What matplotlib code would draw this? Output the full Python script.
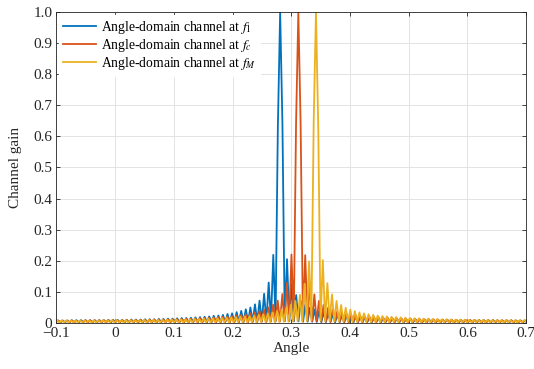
import numpy as np
import matplotlib
matplotlib.use("Agg")
import matplotlib.pyplot as plt

plt.rcParams['font.family'] = ['Liberation Serif', 'DejaVu Serif']
plt.rcParams['mathtext.fontset'] = 'stix'

# ---- data ----
# main-lobe centres (angle) and half lobe spacing of the sampled array response
blue_center = 0.281
red_center = 0.312
yellow_center = 0.342
lobe_half = 0.0039

main_peak = [1.0, 1.0, 1.0]
# first samples either side of the main lobe (left, right)
blue_shoulders = [0.63, 0.64]
red_shoulders = [0.64, 0.64]
yellow_shoulders = [0.64, 0.63]

# side-lobe tips going outwards from the main lobe
blue_left_peaks = [0.219, 0.130, 0.094, 0.072, 0.060, 0.050, 0.044, 0.039, 0.035, 0.031,
                   0.029, 0.026, 0.024, 0.023, 0.021, 0.020, 0.019, 0.018, 0.017, 0.016,
                   0.016, 0.015, 0.014, 0.014, 0.013, 0.013, 0.012, 0.012, 0.012, 0.011,
                   0.011, 0.011, 0.010, 0.010, 0.010, 0.010, 0.010, 0.009, 0.009, 0.009,
                   0.009, 0.009, 0.009, 0.009, 0.009, 0.008, 0.008, 0.008, 0.008, 0.008]
blue_right_peaks = [0.205, 0.126, 0.090, 0.071, 0.058, 0.049, 0.043, 0.038, 0.034, 0.031,
                    0.028, 0.026, 0.024, 0.022, 0.021, 0.020, 0.019, 0.018, 0.017, 0.016,
                    0.015, 0.015, 0.014, 0.014, 0.013, 0.013, 0.012, 0.012, 0.012, 0.011,
                    0.011, 0.011, 0.010, 0.010, 0.010, 0.010, 0.010, 0.009, 0.009, 0.009,
                    0.009, 0.009, 0.009, 0.009, 0.009, 0.009, 0.008, 0.008, 0.008, 0.008,
                    0.008, 0.008, 0.008, 0.008, 0.008]
red_left_peaks = [0.220, 0.129, 0.093, 0.072, 0.059, 0.050, 0.043, 0.038, 0.034, 0.031,
                  0.028, 0.026, 0.024, 0.022, 0.021, 0.020, 0.019, 0.018, 0.017, 0.016,
                  0.016, 0.015, 0.014, 0.014, 0.013, 0.013, 0.012, 0.012, 0.012, 0.011,
                  0.011, 0.011, 0.010, 0.010, 0.010, 0.010, 0.010, 0.009, 0.009, 0.009,
                  0.009, 0.009, 0.009, 0.009, 0.009, 0.009, 0.008, 0.008, 0.008, 0.008,
                  0.008, 0.008, 0.008, 0.008]
red_right_peaks = [0.218, 0.128, 0.092, 0.071, 0.058, 0.049, 0.043, 0.038, 0.034, 0.031,
                   0.028, 0.026, 0.024, 0.022, 0.021, 0.020, 0.019, 0.018, 0.017, 0.016,
                   0.015, 0.015, 0.014, 0.014, 0.013, 0.013, 0.012, 0.012, 0.012, 0.011,
                   0.011, 0.011, 0.010, 0.010, 0.010, 0.010, 0.010, 0.009, 0.009, 0.009,
                   0.009, 0.009, 0.009, 0.009, 0.009, 0.009, 0.008, 0.008, 0.008, 0.008,
                   0.008]
yellow_left_peaks = [0.198, 0.126, 0.091, 0.071, 0.058, 0.049, 0.043, 0.038, 0.034, 0.031,
                     0.028, 0.026, 0.024, 0.022, 0.021, 0.020, 0.019, 0.018, 0.017, 0.016,
                     0.015, 0.015, 0.014, 0.014, 0.013, 0.013, 0.012, 0.012, 0.012, 0.011,
                     0.011, 0.011, 0.010, 0.010, 0.010, 0.010, 0.010, 0.009, 0.009, 0.009,
                     0.009, 0.009, 0.009, 0.009, 0.009, 0.009, 0.008, 0.008, 0.008, 0.008,
                     0.008, 0.008, 0.008, 0.008, 0.008, 0.008, 0.008, 0.008]
yellow_right_peaks = [0.202, 0.128, 0.092, 0.071, 0.058, 0.049, 0.043, 0.038, 0.034, 0.031,
                      0.028, 0.026, 0.024, 0.022, 0.021, 0.020, 0.019, 0.018, 0.017, 0.016,
                      0.015, 0.015, 0.014, 0.014, 0.013, 0.013, 0.012, 0.012, 0.012, 0.011,
                      0.011, 0.011, 0.010, 0.010, 0.010, 0.010, 0.010, 0.009, 0.009, 0.009,
                      0.009, 0.009, 0.009, 0.009, 0.009, 0.009, 0.009]

# minima between the lobes
blue_troughs = [0.006, 0.007, 0.005, 0.005, 0.004, 0.004, 0.004, 0.003, 0.003, 0.003,
                0.003, 0.002, 0.003, 0.002, 0.003, 0.002, 0.002, 0.003, 0.002, 0.002,
                0.003, 0.002, 0.002, 0.002, 0.003, 0.002, 0.002, 0.002, 0.002, 0.003,
                0.002, 0.002, 0.002, 0.002, 0.002, 0.003, 0.002, 0.002, 0.002, 0.002,
                0.002, 0.002, 0.003, 0.002, 0.002, 0.002, 0.002, 0.002, 0.002, 0.002,
                0.002, 0.002, 0.002, 0.002, 0.002, 0.002, 0.002, 0.002]
red_troughs = [0.007, 0.006, 0.006, 0.005, 0.004, 0.004, 0.003, 0.004, 0.003, 0.003,
               0.002, 0.003, 0.003, 0.002, 0.002, 0.003, 0.002, 0.002, 0.002, 0.003,
               0.002, 0.002, 0.003, 0.002, 0.002, 0.002, 0.002, 0.003, 0.002, 0.002,
               0.002, 0.002, 0.002, 0.002, 0.003, 0.002, 0.002, 0.002, 0.002, 0.002,
               0.002, 0.003, 0.002, 0.002, 0.002, 0.002, 0.002, 0.002, 0.002, 0.002,
               0.002, 0.002, 0.002, 0.002, 0.002, 0.002, 0.002, 0.002]
yellow_troughs = [0.008, 0.006, 0.005, 0.005, 0.005, 0.004, 0.004, 0.003, 0.003, 0.003,
                  0.003, 0.003, 0.002, 0.003, 0.002, 0.002, 0.003, 0.002, 0.002, 0.002,
                  0.003, 0.002, 0.002, 0.002, 0.002, 0.003, 0.002, 0.002, 0.002, 0.002,
                  0.002, 0.003, 0.002, 0.002, 0.002, 0.002, 0.002, 0.002, 0.003, 0.002,
                  0.002, 0.002, 0.002, 0.002, 0.002, 0.002, 0.002, 0.002, 0.002, 0.002,
                  0.002, 0.002, 0.002, 0.002, 0.002, 0.002, 0.002, 0.002, 0.002, 0.002]

labels = [r'Angle-domain channel at $f_1$',
          r'Angle-domain channel at $f_c$',
          r'Angle-domain channel at $f_M$']
colors = ['#0072BD', '#D95319', '#EDB120']

xticks = [-0.1, 0, 0.1, 0.2, 0.3, 0.4, 0.5, 0.6, 0.7]
xtick_labels = ['\u22120.1', '0', '0.1', '0.2', '0.3', '0.4', '0.5', '0.6', '0.7']
yticks = [0, 0.1, 0.2, 0.3, 0.4, 0.5, 0.6, 0.7, 0.8, 0.9, 1.0]
ytick_labels = ['0', '0.1', '0.2', '0.3', '0.4', '0.5', '0.6', '0.7', '0.8', '0.9', '1.0']


def build_curve(center, peak, shoulders, left_peaks, right_peaks, troughs):
    # samples laid out every half lobe, going out from the main lobe
    left = [shoulders[0]]
    for t, p in zip(troughs, left_peaks):
        left += [t, p]
    right = [shoulders[1]]
    for t, p in zip(troughs, right_peaks):
        right += [t, p]
    y = np.array(left[::-1] + [peak] + right)
    k = np.arange(-len(left), len(right) + 1)
    return center + lobe_half * k, y


curves = [
    build_curve(blue_center, main_peak[0], blue_shoulders, blue_left_peaks, blue_right_peaks, blue_troughs),
    build_curve(red_center, main_peak[1], red_shoulders, red_left_peaks, red_right_peaks, red_troughs),
    build_curve(yellow_center, main_peak[2], yellow_shoulders, yellow_left_peaks, yellow_right_peaks, yellow_troughs),
]

fig = plt.figure(figsize=(5.34, 3.69), dpi=100)
ax = fig.add_axes([0.1058, 0.1247, 0.8794, 0.8428])

for (x, y), c, lab in zip(curves, colors, labels):
    ax.plot(x, y, color=c, lw=1.3, label=lab)

ax.set_xlim(-0.1, 0.7)
ax.set_ylim(0, 1)
ax.set_xticks(xticks)
ax.set_xticklabels(xtick_labels)
ax.set_yticks(yticks)
ax.set_yticklabels(ytick_labels)
ax.grid(True, color='#e3e3e3', lw=0.7)
ax.set_axisbelow(True)
ax.tick_params(direction='in', top=True, right=True, length=3, width=0.6,
               labelsize=11, color='#262626', labelcolor='#262626', pad=3)
for s in ax.spines.values():
    s.set_color('#262626')
    s.set_linewidth(0.6)

ax.set_xlabel('Angle', fontsize=11, color='#262626', labelpad=1)
ax.set_ylabel('Channel gain', fontsize=11, color='#262626', labelpad=8)

ax.legend(loc='upper left', fontsize=9.8, frameon=True, facecolor='white',
          edgecolor='white', framealpha=1, fancybox=False, borderaxespad=0.2,
          borderpad=0.3, handlelength=2.4, handletextpad=0.35, labelspacing=0.08)

fig.savefig('out.png', dpi=100)
